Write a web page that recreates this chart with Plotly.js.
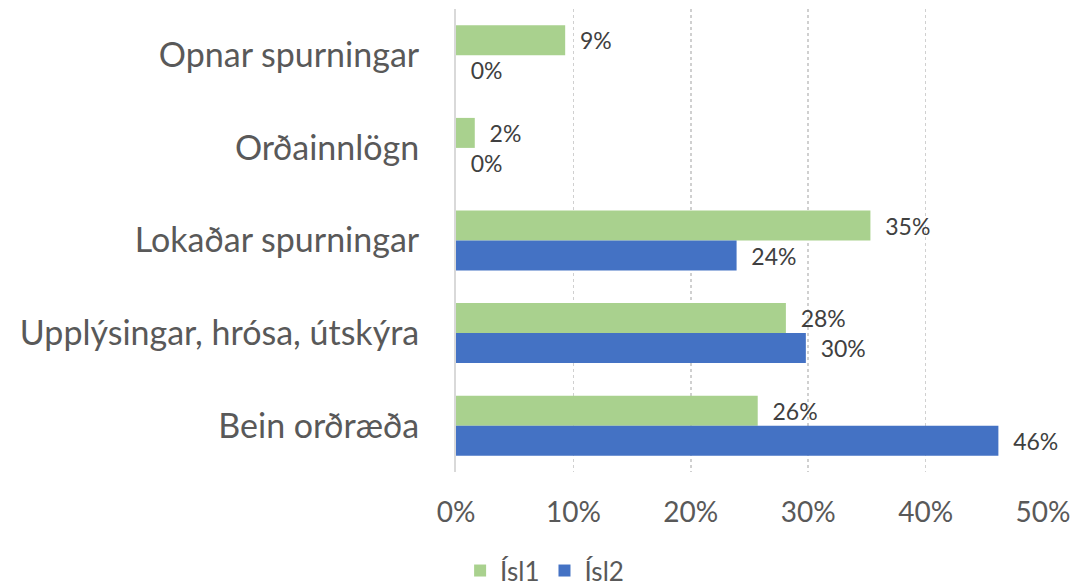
<!DOCTYPE html>
<html>
<head>
<meta charset="utf-8">
<script src="https://cdn.plot.ly/plotly-3.0.1.min.js"></script>
<style>html,body{margin:0;padding:0;background:#fff;}#chart{width:1073px;height:588px;}</style>
</head>
<body>
<div id="chart"></div>
<script>
const categories = ["Opnar spurningar", "Orðainnlögn", "Lokaðar spurningar", "Upplýsingar, hrósa, útskýra", "Bein orðræða"];
const isl1 = [0.093, 0.016, 0.353, 0.281, 0.257];
const isl2 = [0.0, 0.0, 0.239, 0.298, 0.462];
const seriesNames = ["Ísl1", "Ísl2"];
const tickVals = [0, 0.1, 0.2, 0.3, 0.4, 0.5];
const tickText = ["0%", "10%", "20%", "30%", "40%", "50%"];

const font = "Lato, 'Open Sans', sans-serif";
const labelFont = {family: font, size: 23, color: "#404040"};
const tmpl = "\u00a0\u00a0%{x:.0%}";

const traces = [
  {type: "bar", orientation: "h", name: seriesNames[0], y: categories, x: isl1,
   marker: {color: "#a9d18e"}, texttemplate: tmpl, textposition: "outside",
   constraintext: "none", outsidetextfont: labelFont, cliponaxis: false, hoverinfo: "none"},
  {type: "bar", orientation: "h", name: seriesNames[1], y: categories, x: isl2,
   marker: {color: "#4472c4"}, texttemplate: tmpl, textposition: "outside",
   constraintext: "none", outsidetextfont: labelFont, cliponaxis: false, hoverinfo: "none"}
];

const layout = {
  width: 1073, height: 588,
  margin: {l: 456, r: 30, t: 9, b: 116, autoexpand: false},
  paper_bgcolor: "#fff", plot_bgcolor: "#fff",
  barmode: "group", bargap: 0.352, bargroupgap: 0,
  font: {family: font, color: "#595959"},
  xaxis: {range: [0, 0.5], tickvals: tickVals, ticktext: tickText,
          showgrid: true, gridcolor: "#d0d0d0", griddash: "dot", gridwidth: 1.5,
          zeroline: false, showline: false, ticks: "", automargin: false,
          tickfont: {family: font, size: 28, color: "#595959"}, ticklabelstandoff: 21},
  yaxis: {autorange: "reversed", showgrid: false, zeroline: false, automargin: false,
          showline: true, linecolor: "#d9d9d9", linewidth: 2, ticks: "",
          tickfont: {family: font, size: 34, color: "#595959"}, ticklabelstandoff: 28},
  showlegend: true,
  legend: {orientation: "h", x: 0.007, xanchor: "left", y: -0.213, yanchor: "middle",
           font: {family: font, size: 26, color: "#595959"}, itemwidth: 30, traceorder: "normal"}
};

Plotly.newPlot("chart", traces, layout, {displayModeBar: false, staticPlot: true});
</script>
</body>
</html>
